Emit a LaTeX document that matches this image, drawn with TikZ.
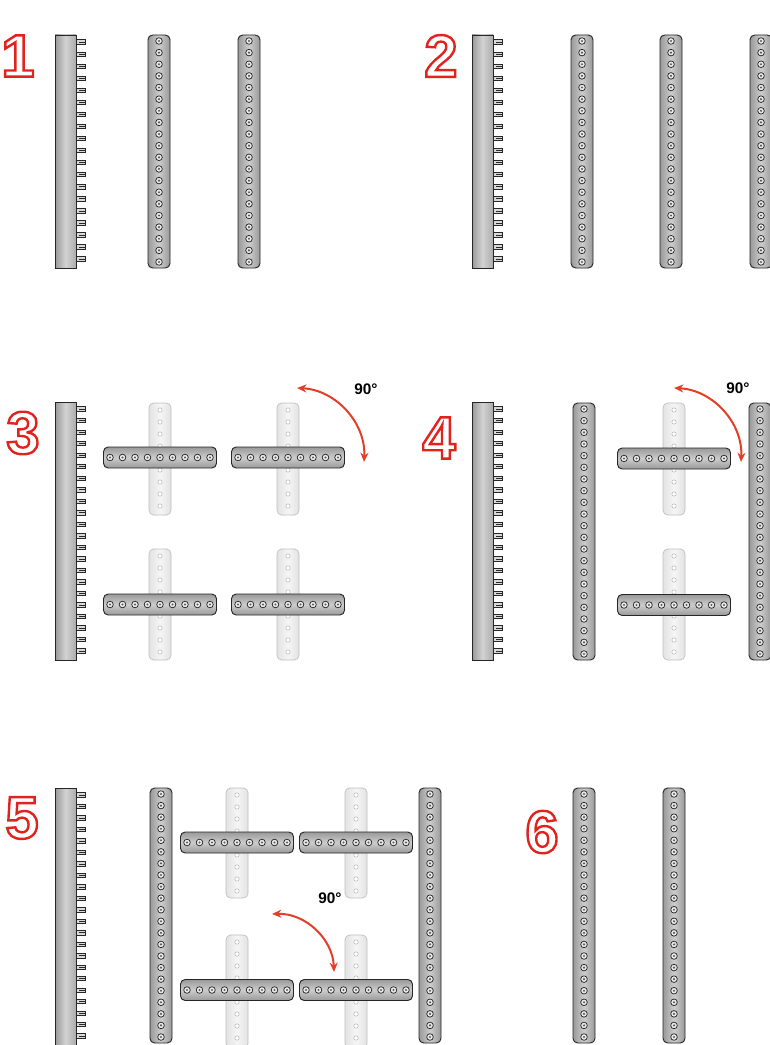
\documentclass[tikz,border=0pt]{standalone}
\usepackage{fontspec}
\setmainfont{Liberation Sans}
\usetikzlibrary{arrows.meta}
\definecolor{turnred}{RGB}{228,62,38}
\definecolor{stepred}{RGB}{225,35,30}

% hollow step digits: glyph outlines stroked, not filled
\newcommand{\hollow}[1]{\special{pdf:literal direct 1 Tr 1.8 w}#1\special{pdf:literal direct 0 Tr}}

\tikzset{
  rail/.style={draw=black!85, line width=0.6pt, left color=gray!80, right color=gray!65, middle color=gray!35},
  peg/.style={draw=black!85, fill=gray!30, line width=0.5pt},
  darkv/.style={draw=black!85, line width=0.7pt, rounded corners=3.5pt, left color=gray!80, right color=gray!80, middle color=gray!40},
  darkh/.style={draw=black!85, line width=0.7pt, rounded corners=3.5pt, top color=gray!80, bottom color=gray!80, middle color=gray!40},
  lightv/.style={draw=gray!50, line width=0.5pt, rounded corners=3.5pt, left color=gray!22, right color=gray!22, middle color=gray!8},
  hole/.style={draw=black!85, fill=gray!15, line width=0.55pt},
  lighthole/.style={draw=gray!55, fill=white, line width=0.4pt},
  turn/.style={turnred, line width=1.5pt, {Stealth[length=7pt,width=6pt]}-{Stealth[length=7pt,width=6pt]}},
  anglelabel/.style={font=\fontsize{11.5}{12}\selectfont\bfseries, inner sep=0pt},
  stepnum/.style={font=\fontsize{45}{45}\selectfont\bfseries, text=stepred, inner sep=0pt}
}

% rail with pegs: left x, top y, bottom y, number of pegs
\newcommand{\railbeam}[4]{%
  \pgfmathsetmacro\peggap{(#3-#2-16)/(#4-1)}
  \pgfmathtruncatemacro\pegend{#4-1}
  \foreach \i in {0,...,\pegend}{
    \draw[peg] (#1+20,#2+7+\i*\peggap-2.2) rectangle (#1+30,#2+7+\i*\peggap+2.2);
    \draw[black!85, line width=0.4pt] (#1+24,#2+7+\i*\peggap) -- (#1+30,#2+7+\i*\peggap);
  }
  \path[rail] (#1,#2) rectangle (#1+21,#3);
}

% upright beam with holes: left x, top y, bottom y, number of holes
\newcommand{\holebeam}[4]{%
  \path[darkv] (#1,#2) rectangle (#1+22,#3);
  \pgfmathsetmacro\holegap{(#3-#2-12)/(#4-1)}
  \pgfmathtruncatemacro\holeend{#4-1}
  \foreach \i in {0,...,\holeend}{
    \filldraw[hole] (#1+11,#2+6+\i*\holegap) circle (3.3);
    \fill[gray!70!black] (#1+11,#2+6+\i*\holegap) circle (1.2);
  }
}

% pale upright beam with a crossbar: centre x, top y, bottom y, crossbar y
\newcommand{\crosspiece}[4]{%
  \path[lightv] (#1-11,#2) rectangle (#1+11,#3);
  \pgfmathtruncatemacro\lightend{(#3-#2-10)/12}
  \foreach \i in {0,...,\lightend}
    \filldraw[lighthole] (#1,#2+7+\i*12) circle (2.2);
  \path[darkh] (#1-56.5,#4-10.5) rectangle (#1+56.5,#4+10.5);
  \foreach \i in {0,...,8}{
    \filldraw[hole] (#1-50+\i*12.5,#4) circle (3.3);
    \fill[gray!70!black] (#1-50+\i*12.5,#4) circle (1.2);
  }
}

\begin{document}
\begin{tikzpicture}[x=0.75pt, y=-0.75pt]
  \useasboundingbox (0,0) rectangle (770,1045);
  \fill[white] (0,0) rectangle (770,1045);
  \clip (0,0) rectangle (770,1045);

  % Step 1
  \node[stepnum] (num1) at (18,56) {\hollow{1}};
  \railbeam{55}{35}{268}{19}
  \holebeam{148}{35}{268}{20}
  \holebeam{238}{35}{268}{20}

  % Step 2
  \node[stepnum] (num2) at (441,56) {\hollow{2}};
  \railbeam{472}{35}{268}{19}
  \holebeam{571}{35}{268}{20}
  \holebeam{660}{35}{268}{20}
  \holebeam{750}{35}{268}{20}

  % Step 3
  \node[stepnum] (num3) at (23,433) {\hollow{3}};
  \railbeam{55}{402}{660}{22}
  \crosspiece{160}{403}{515}{457.5}
  \crosspiece{288}{403}{515}{457.5}
  \crosspiece{160}{549}{660}{604.5}
  \crosspiece{288}{549}{660}{604.5}
  \coordinate (turn3a) at (297,388);
  \coordinate (turn3b) at (364,462);
  \draw[turn] (turn3a) to[bend left=45] (turn3b);
  \node[anglelabel] (deg3) at (366,389) {90°};

  % Step 4
  \node[stepnum] (num4) at (439,438) {\hollow{4}};
  \railbeam{472}{402}{660}{22}
  \holebeam{573}{403}{660}{22}
  \crosspiece{674}{403}{515}{458.5}
  \crosspiece{674}{549}{660}{605}
  \holebeam{749}{403}{660}{22}
  \coordinate (turn4a) at (674,388);
  \coordinate (turn4b) at (741,462);
  \draw[turn] (turn4a) to[bend left=45] (turn4b);
  \node[anglelabel] (deg4) at (738,388) {90°};

  % Step 5
  \node[stepnum] (num5) at (22,818) {\hollow{5}};
  \railbeam{55}{788}{1045}{22}
  \holebeam{150}{788}{1043}{22}
  \crosspiece{237}{788}{898}{842.5}
  \crosspiece{356}{788}{898}{842.5}
  \crosspiece{237}{935}{1048}{990}
  \crosspiece{356}{935}{1048}{990}
  \holebeam{419}{788}{1043}{22}
  \coordinate (turn5a) at (272,914);
  \coordinate (turn5b) at (334,972);
  \draw[turn] (turn5a) to[bend left=45] (turn5b);
  \node[anglelabel] (deg5) at (330,898) {90°};

  % Step 6
  \node[stepnum] (num6) at (542,832) {\hollow{6}};
  \holebeam{573}{788}{1043}{22}
  \holebeam{663}{788}{1043}{22}
\end{tikzpicture}
\end{document}
